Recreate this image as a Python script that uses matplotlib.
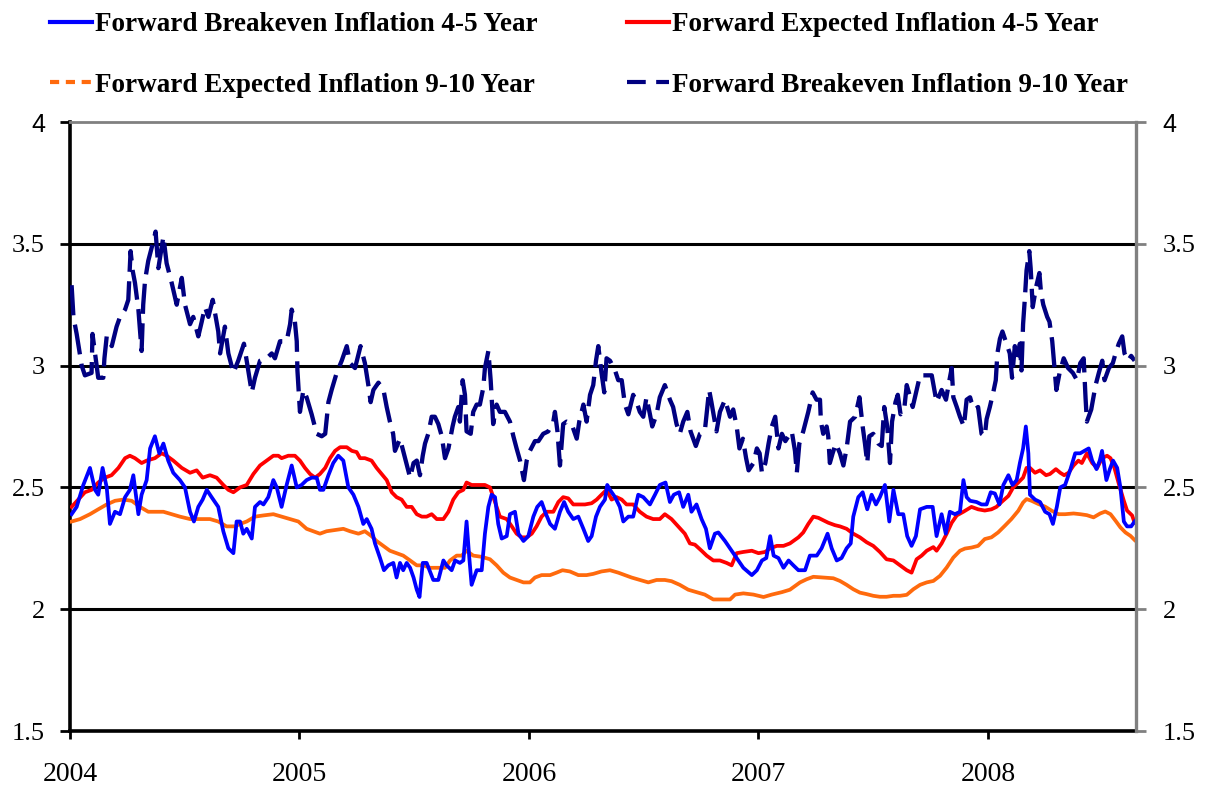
import numpy as np
import matplotlib
matplotlib.use("Agg")
import matplotlib.pyplot as plt
from matplotlib.lines import Line2D

# time in years since start of 2004
t_be45 = [0.007, 0.029, 0.058, 0.087, 0.109, 0.123, 0.142, 0.160, 0.174, 0.196, 0.218, 0.240, 0.261, 0.276, 0.298, 0.312, 0.334, 0.349, 0.370, 0.389, 0.407, 0.428, 0.450, 0.479, 0.501, 0.523, 0.540, 0.559, 0.578, 0.596, 0.617, 0.646, 0.668, 0.690, 0.712, 0.726,
          0.741, 0.755, 0.770, 0.792, 0.806, 0.828, 0.843, 0.864, 0.886, 0.901, 0.922, 0.944, 0.966, 0.988, 1.009, 1.031, 1.053, 1.075, 1.089, 1.104, 1.126, 1.147, 1.169, 1.191, 1.213, 1.235, 1.257, 1.278, 1.293, 1.314, 1.329, 1.351, 1.368, 1.387, 1.409, 1.423, 1.438, 1.452, 1.467, 1.482, 1.497, 1.511, 1.523, 1.537, 1.554,
          1.583, 1.605, 1.627, 1.641, 1.663, 1.678, 1.699, 1.714, 1.728, 1.740, 1.750, 1.772, 1.794, 1.808, 1.823, 1.837, 1.852, 1.866, 1.881, 1.903, 1.917, 1.939, 1.954, 1.976, 1.997, 2.019, 2.036, 2.055, 2.070, 2.092, 2.113, 2.135, 2.153, 2.171, 2.193, 2.215, 2.237, 2.258, 2.273, 2.292, 2.309, 2.331, 2.341, 2.353,
          2.375, 2.396, 2.411, 2.433, 2.454, 2.476, 2.498, 2.527, 2.549, 2.570, 2.595, 2.614, 2.631, 2.654, 2.672, 2.694, 2.708, 2.730, 2.752, 2.771, 2.788, 2.810, 2.825, 2.854, 2.883, 2.905, 2.934, 2.971, 2.993, 3.015, 3.034, 3.051, 3.066, 3.087, 3.109, 3.131,
          3.152, 3.174, 3.203, 3.224, 3.254, 3.275, 3.301, 3.319, 3.341, 3.362, 3.384, 3.402, 3.413, 3.435, 3.454, 3.474, 3.493, 3.512, 3.529, 3.551, 3.570, 3.588, 3.609, 3.631, 3.648, 3.667, 3.686, 3.704, 3.733, 3.759, 3.776, 3.798, 3.816, 3.834, 3.856, 3.878, 3.893, 3.907, 3.922,
          3.950, 3.972, 3.994, 4.012, 4.030, 4.050, 4.067, 4.089, 4.107, 4.125, 4.139, 4.153, 4.165, 4.176, 4.183, 4.205, 4.227, 4.249, 4.268, 4.283, 4.300, 4.315, 4.336, 4.358, 4.380, 4.402, 4.420, 4.439, 4.454, 4.473, 4.487, 4.497, 4.516, 4.531, 4.545, 4.563, 4.577, 4.592, 4.606, 4.624, 4.639]
be45 = [2.39, 2.42, 2.51, 2.58, 2.49, 2.47, 2.58, 2.50, 2.35, 2.40, 2.39, 2.46, 2.49, 2.55, 2.39, 2.47, 2.53, 2.66, 2.71, 2.64, 2.68, 2.61, 2.56, 2.53, 2.50, 2.40, 2.36, 2.42, 2.45, 2.49, 2.46, 2.42, 2.32, 2.25, 2.23, 2.36,
        2.36, 2.31, 2.33, 2.29, 2.42, 2.44, 2.43, 2.46, 2.53, 2.50, 2.42, 2.51, 2.59, 2.50, 2.51, 2.53, 2.54, 2.54, 2.49, 2.49, 2.55, 2.60, 2.63, 2.61, 2.50, 2.47, 2.42, 2.35, 2.37, 2.33, 2.27, 2.21, 2.16, 2.18, 2.19, 2.13, 2.19, 2.16, 2.19, 2.17, 2.13, 2.08, 2.05, 2.19, 2.19,
        2.12, 2.12, 2.20, 2.18, 2.16, 2.20, 2.19, 2.20, 2.36, 2.21, 2.10, 2.16, 2.16, 2.31, 2.42, 2.47, 2.46, 2.35, 2.29, 2.30, 2.39, 2.40, 2.31, 2.28, 2.30, 2.38, 2.42, 2.44, 2.40, 2.35, 2.33, 2.40, 2.44, 2.40, 2.37, 2.38, 2.33, 2.28, 2.30, 2.38, 2.42, 2.45, 2.51, 2.49,
        2.46, 2.42, 2.36, 2.38, 2.38, 2.47, 2.46, 2.43, 2.47, 2.51, 2.52, 2.44, 2.47, 2.48, 2.42, 2.47, 2.40, 2.43, 2.37, 2.33, 2.25, 2.31, 2.315, 2.28, 2.24, 2.21, 2.17, 2.14, 2.16, 2.20, 2.21, 2.30, 2.22, 2.21, 2.17, 2.20,
        2.18, 2.16, 2.16, 2.22, 2.22, 2.25, 2.31, 2.25, 2.20, 2.21, 2.25, 2.27, 2.38, 2.46, 2.48, 2.41, 2.47, 2.43, 2.46, 2.51, 2.36, 2.49, 2.39, 2.39, 2.30, 2.26, 2.30, 2.41, 2.42, 2.42, 2.30, 2.39, 2.31, 2.40, 2.39, 2.40, 2.53, 2.46, 2.445,
        2.44, 2.43, 2.43, 2.48, 2.475, 2.43, 2.51, 2.55, 2.51, 2.53, 2.60, 2.66, 2.75, 2.64, 2.47, 2.45, 2.44, 2.40, 2.39, 2.35, 2.42, 2.50, 2.51, 2.57, 2.64, 2.64, 2.65, 2.66, 2.61, 2.575, 2.61, 2.65, 2.53, 2.575, 2.61, 2.58, 2.50, 2.36, 2.34, 2.34, 2.36]

t_ex45 = [0.007, 0.036, 0.065, 0.094, 0.123, 0.152, 0.181, 0.211, 0.240, 0.261, 0.283, 0.312, 0.334, 0.370, 0.399, 0.421, 0.450, 0.487, 0.523, 0.552, 0.578, 0.610, 0.639, 0.668, 0.690, 0.712,
          0.741, 0.770, 0.799, 0.828, 0.857, 0.886, 0.908, 0.922, 0.951, 0.980, 1.002, 1.024, 1.046, 1.068, 1.089, 1.112, 1.133, 1.155, 1.177, 1.206, 1.228, 1.249, 1.264, 1.285, 1.314, 1.336, 1.358, 1.380, 1.402, 1.423, 1.445, 1.467, 1.489, 1.511, 1.533, 1.554,
          1.576, 1.598, 1.627, 1.649, 1.670, 1.692, 1.714, 1.728, 1.750, 1.779, 1.808, 1.830, 1.852, 1.873, 1.903, 1.925, 1.946, 1.968, 1.990, 2.012, 2.033, 2.055, 2.077, 2.106, 2.128, 2.149, 2.171, 2.193, 2.215, 2.244, 2.273, 2.295, 2.316, 2.338,
          2.360, 2.382, 2.404, 2.425, 2.454, 2.483, 2.512, 2.541, 2.570, 2.592, 2.621, 2.650, 2.679, 2.701, 2.723, 2.752, 2.774, 2.803, 2.832, 2.861, 2.883, 2.905, 2.934, 2.971, 3.000, 3.029, 3.051, 3.080, 3.109, 3.137,
          3.174, 3.195, 3.217, 3.239, 3.261, 3.282, 3.304, 3.333, 3.355, 3.384, 3.413, 3.442, 3.471, 3.500, 3.529, 3.558, 3.588, 3.617, 3.646, 3.667, 3.689, 3.711, 3.733, 3.762, 3.776, 3.798, 3.820, 3.842, 3.864, 3.893,
          3.928, 3.957, 3.986, 4.015, 4.037, 4.059, 4.089, 4.110, 4.132, 4.153, 4.168, 4.183, 4.205, 4.227, 4.253, 4.270, 4.296, 4.315, 4.332, 4.351, 4.373, 4.394, 4.409, 4.431, 4.454, 4.476, 4.497, 4.519, 4.534, 4.551, 4.570, 4.592, 4.606, 4.628, 4.639]
ex45 = [2.42, 2.45, 2.48, 2.49, 2.52, 2.54, 2.55, 2.58, 2.62, 2.63, 2.62, 2.60, 2.61, 2.62, 2.64, 2.63, 2.61, 2.58, 2.56, 2.57, 2.54, 2.55, 2.54, 2.51, 2.49, 2.48,
        2.50, 2.51, 2.555, 2.59, 2.61, 2.63, 2.63, 2.62, 2.63, 2.63, 2.61, 2.58, 2.555, 2.54, 2.555, 2.58, 2.62, 2.65, 2.665, 2.665, 2.65, 2.645, 2.62, 2.62, 2.61, 2.58, 2.555, 2.53, 2.48, 2.46, 2.45, 2.42, 2.42, 2.39, 2.38, 2.38,
        2.39, 2.37, 2.37, 2.40, 2.45, 2.48, 2.49, 2.52, 2.51, 2.51, 2.51, 2.50, 2.44, 2.38, 2.37, 2.34, 2.31, 2.295, 2.295, 2.31, 2.34, 2.38, 2.40, 2.40, 2.44, 2.46, 2.455, 2.43, 2.43, 2.43, 2.435, 2.45, 2.47, 2.49,
        2.45, 2.46, 2.45, 2.43, 2.43, 2.40, 2.38, 2.37, 2.37, 2.39, 2.37, 2.34, 2.31, 2.27, 2.265, 2.24, 2.22, 2.20, 2.20, 2.19, 2.18, 2.23, 2.235, 2.24, 2.23, 2.235, 2.25, 2.26, 2.26, 2.27,
        2.295, 2.315, 2.35, 2.38, 2.375, 2.365, 2.355, 2.345, 2.34, 2.33, 2.31, 2.295, 2.275, 2.26, 2.235, 2.205, 2.20, 2.18, 2.16, 2.15, 2.205, 2.22, 2.24, 2.255, 2.24, 2.27, 2.31, 2.355, 2.385, 2.40,
        2.42, 2.41, 2.405, 2.41, 2.42, 2.44, 2.465, 2.50, 2.52, 2.54, 2.58, 2.58, 2.56, 2.57, 2.55, 2.555, 2.575, 2.56, 2.55, 2.56, 2.59, 2.61, 2.60, 2.64, 2.60, 2.58, 2.62, 2.63, 2.62, 2.58, 2.515, 2.445, 2.405, 2.385, 2.355]

t_ex910 = [0.007, 0.044, 0.087, 0.123, 0.160, 0.196, 0.232, 0.269, 0.305, 0.341, 0.378, 0.407, 0.443, 0.479, 0.523, 0.566, 0.610, 0.646, 0.682, 0.719,
           0.741, 0.770, 0.806, 0.843, 0.886, 0.922, 0.959, 0.995, 1.031, 1.060, 1.089, 1.118, 1.155, 1.191, 1.220, 1.257, 1.285, 1.314, 1.336, 1.365, 1.394, 1.423, 1.452, 1.482, 1.511, 1.540, 1.569,
           1.598, 1.634, 1.656, 1.685, 1.707, 1.728, 1.757, 1.794, 1.830, 1.859, 1.888, 1.917, 1.946, 1.976, 2.004, 2.026, 2.055, 2.092, 2.120, 2.146, 2.178, 2.215, 2.251, 2.280, 2.316, 2.353,
           2.389, 2.418, 2.447, 2.483, 2.520, 2.556, 2.592, 2.621, 2.657, 2.694, 2.730, 2.766, 2.803, 2.839, 2.876, 2.898, 2.934, 2.978, 3.022, 3.058, 3.102, 3.137,
           3.181, 3.210, 3.239, 3.282, 3.326, 3.355, 3.384, 3.413, 3.442, 3.471, 3.500, 3.529, 3.558, 3.588, 3.617, 3.646, 3.675, 3.704, 3.733, 3.762, 3.791, 3.820, 3.849, 3.878, 3.900,
           3.928, 3.957, 3.986, 4.015, 4.044, 4.073, 4.102, 4.132, 4.153, 4.168, 4.190, 4.219, 4.249, 4.278, 4.307, 4.336, 4.373, 4.402, 4.431, 4.460, 4.489, 4.511, 4.534, 4.556, 4.577, 4.599, 4.621, 4.639]
ex910 = [2.36, 2.37, 2.39, 2.41, 2.43, 2.445, 2.45, 2.445, 2.42, 2.40, 2.40, 2.40, 2.39, 2.38, 2.37, 2.37, 2.37, 2.36, 2.34, 2.34,
         2.35, 2.36, 2.38, 2.385, 2.39, 2.38, 2.37, 2.36, 2.33, 2.32, 2.31, 2.32, 2.325, 2.33, 2.32, 2.31, 2.32, 2.30, 2.28, 2.26, 2.24, 2.23, 2.22, 2.20, 2.18, 2.18, 2.17,
         2.17, 2.17, 2.20, 2.22, 2.22, 2.24, 2.22, 2.215, 2.205, 2.18, 2.15, 2.13, 2.12, 2.11, 2.11, 2.13, 2.14, 2.14, 2.15, 2.16, 2.155, 2.14, 2.14, 2.145, 2.155, 2.16,
         2.15, 2.14, 2.13, 2.12, 2.11, 2.12, 2.12, 2.115, 2.10, 2.08, 2.07, 2.06, 2.04, 2.04, 2.04, 2.06, 2.065, 2.06, 2.05, 2.06, 2.07, 2.08,
         2.11, 2.123, 2.133, 2.13, 2.127, 2.116, 2.10, 2.082, 2.068, 2.062, 2.055, 2.051, 2.051, 2.055, 2.055, 2.059, 2.082, 2.10, 2.11, 2.116, 2.137, 2.171, 2.212, 2.24, 2.249,
         2.253, 2.26, 2.288, 2.295, 2.315, 2.342, 2.37, 2.404, 2.438, 2.452, 2.445, 2.432, 2.421, 2.404, 2.39, 2.39, 2.393, 2.39, 2.386, 2.377, 2.393, 2.401, 2.39, 2.363, 2.336, 2.315, 2.301, 2.284]

t_be910 = [0.007, 0.015, 0.029, 0.051, 0.065, 0.094, 0.098, 0.109, 0.123, 0.145, 0.150, 0.160, 0.182, 0.203, 0.218, 0.240, 0.254, 0.264, 0.273, 0.283, 0.298, 0.312, 0.319, 0.327, 0.341, 0.363, 0.373, 0.385, 0.407, 0.421, 0.443, 0.465, 0.487, 0.501, 0.523, 0.537, 0.559, 0.574, 0.588, 0.603, 0.622, 0.646, 0.654, 0.675, 0.690, 0.712, 0.733,
           0.758, 0.792, 0.806, 0.828, 0.857, 0.879, 0.893, 0.915, 0.944, 0.959, 0.966, 0.980, 0.988, 0.991, 1.002, 1.017, 1.031, 1.053, 1.075, 1.097, 1.112, 1.126, 1.140, 1.162, 1.184, 1.206, 1.220, 1.242, 1.266, 1.285, 1.300, 1.310, 1.322, 1.344, 1.366, 1.380, 1.394, 1.408, 1.416, 1.438, 1.460, 1.482, 1.497, 1.511,
           1.525, 1.537, 1.547, 1.561, 1.576, 1.590, 1.605, 1.620, 1.634, 1.649, 1.667, 1.677, 1.692, 1.699, 1.711, 1.721, 1.728, 1.746, 1.757, 1.772, 1.786, 1.801, 1.808, 1.823, 1.833, 1.844, 1.859, 1.873, 1.895, 1.917, 1.932, 1.946, 1.961, 1.978, 1.990, 2.004, 2.026, 2.041, 2.062, 2.084, 2.106, 2.113, 2.124, 2.135, 2.149, 2.164, 2.186, 2.208, 2.219, 2.237, 2.251, 2.266, 2.280, 2.292, 2.302, 2.316, 2.328, 2.338, 2.353,
           2.375, 2.389, 2.404, 2.418, 2.433, 2.454, 2.469, 2.483, 2.498, 2.512, 2.527, 2.537, 2.556, 2.570, 2.592, 2.614, 2.628, 2.643, 2.657, 2.672, 2.690, 2.704, 2.727, 2.745, 2.766, 2.774, 2.785, 2.795, 2.817, 2.832, 2.854, 2.876, 2.890, 2.905, 2.917, 2.932, 2.946, 2.957, 2.978, 2.993, 3.005, 3.015, 3.030, 3.044, 3.058, 3.073, 3.087, 3.102, 3.117, 3.137,
           3.145, 3.159, 3.167, 3.178, 3.195, 3.217, 3.236, 3.253, 3.268, 3.272, 3.282, 3.297, 3.304, 3.311, 3.323, 3.337, 3.355, 3.370, 3.384, 3.399, 3.421, 3.440, 3.454, 3.464, 3.474, 3.483, 3.500, 3.522, 3.537, 3.548, 3.561, 3.573, 3.582, 3.597, 3.607, 3.619, 3.636, 3.646, 3.661, 3.672, 3.689, 3.704, 3.733, 3.755, 3.776, 3.798, 3.817, 3.832, 3.842, 3.849, 3.864, 3.878, 3.895, 3.907, 3.922,
           3.928, 3.943, 3.957, 3.972, 3.986, 3.994, 4.008, 4.023, 4.034, 4.041, 4.052, 4.063, 4.081, 4.095, 4.105, 4.117, 4.127, 4.139, 4.146, 4.153, 4.161, 4.168, 4.180, 4.186, 4.195, 4.209, 4.224, 4.231, 4.241, 4.258, 4.268, 4.280, 4.288, 4.298, 4.312, 4.330, 4.349, 4.370, 4.388, 4.402, 4.417, 4.425, 4.431, 4.450, 4.469, 4.483, 4.498, 4.508, 4.527, 4.544, 4.556, 4.570, 4.585, 4.595, 4.610, 4.624, 4.639]
be910 = [3.33, 3.20, 3.13, 3.00, 2.96, 2.97, 3.13, 3.05, 2.95, 2.95, 3.03, 3.12, 3.08, 3.16, 3.20, 3.23, 3.27, 3.47, 3.39, 3.34, 3.23, 3.06, 3.25, 3.35, 3.43, 3.51, 3.55, 3.40, 3.53, 3.42, 3.34, 3.25, 3.36, 3.25, 3.17, 3.20, 3.12, 3.18, 3.24, 3.20, 3.27, 3.14, 3.05, 3.16, 3.05, 2.97, 3.02,
         3.09, 2.89, 2.95, 3.02, 3.03, 3.05, 3.03, 3.10, 3.10, 3.17, 3.23, 3.18, 3.10, 2.98, 2.81, 2.90, 2.87, 2.80, 2.72, 2.71, 2.72, 2.85, 2.90, 2.97, 3.02, 3.08, 3.01, 2.99, 3.08, 3.01, 2.92, 2.85, 2.90, 2.93, 2.90, 2.83, 2.77, 2.72, 2.65, 2.70, 2.62, 2.54, 2.60, 2.61,
         2.55, 2.63, 2.68, 2.72, 2.79, 2.79, 2.76, 2.71, 2.62, 2.66, 2.75, 2.79, 2.83, 2.77, 2.94, 2.88, 2.73, 2.72, 2.81, 2.84, 2.84, 2.91, 2.99, 3.06, 2.94, 2.76, 2.84, 2.81, 2.81, 2.77, 2.71, 2.66, 2.61, 2.53, 2.61, 2.65, 2.69, 2.69, 2.72, 2.73, 2.77, 2.81, 2.73, 2.59, 2.76, 2.77, 2.76, 2.70, 2.77, 2.84, 2.77, 2.88, 2.92, 3.02, 3.08, 2.97, 2.89, 3.03, 3.02,
         2.98, 2.94, 2.94, 2.84, 2.80, 2.88, 2.85, 2.81, 2.79, 2.87, 2.80, 2.75, 2.80, 2.87, 2.92, 2.86, 2.83, 2.76, 2.72, 2.77, 2.81, 2.73, 2.67, 2.72, 2.73, 2.80, 2.90, 2.85, 2.73, 2.81, 2.86, 2.79, 2.82, 2.75, 2.66, 2.70, 2.62, 2.57, 2.60, 2.66, 2.64, 2.56, 2.60, 2.68, 2.75, 2.79, 2.66, 2.72, 2.69, 2.72,
         2.73, 2.65, 2.56, 2.68, 2.73, 2.81, 2.89, 2.86, 2.86, 2.77, 2.72, 2.75, 2.71, 2.60, 2.64, 2.68, 2.64, 2.59, 2.66, 2.77, 2.79, 2.87, 2.75, 2.68, 2.60, 2.71, 2.72, 2.68, 2.67, 2.83, 2.75, 2.60, 2.77, 2.85, 2.88, 2.80, 2.83, 2.92, 2.87, 2.83, 2.90, 2.96, 2.96, 2.96, 2.85, 2.90, 2.86, 2.94, 2.99, 2.87, 2.83, 2.79, 2.75, 2.86, 2.87,
         2.85, 2.82, 2.83, 2.72, 2.71, 2.78, 2.83, 2.89, 2.94, 3.05, 3.11, 3.14, 3.09, 3.05, 2.95, 3.08, 3.02, 3.09, 2.98, 3.17, 3.28, 3.39, 3.47, 3.40, 3.24, 3.32, 3.38, 3.30, 3.25, 3.20, 3.18, 3.10, 3.01, 2.90, 2.97, 3.03, 2.99, 2.97, 2.94, 3.01, 3.03, 2.87, 2.77, 2.82, 2.92, 2.97, 3.02, 2.94, 2.99, 3.01, 3.05, 3.09, 3.12, 3.05, 3.02, 3.04, 3.02]

years = [2004, 2005, 2006, 2007, 2008]
yticks = [1.5, 2, 2.5, 3, 3.5, 4]
ytick_labels = ["1.5", "2", "2.5", "3", "3.5", "4"]
labels = ["Forward Breakeven Inflation 4-5 Year",
          "Forward Expected Inflation 4-5 Year",
          "Forward Expected Inflation 9-10 Year",
          "Forward Breakeven Inflation 9-10 Year"]

SERIF = "Liberation Serif"
SANS = "Liberation Sans"

fig = plt.figure(figsize=(12.10, 7.91), dpi=100)
ax = fig.add_axes([70 / 1210, 1 - 731 / 791, (1136 - 70) / 1210, (731 - 122) / 791])

lw = 2.7
ax.plot(t_ex910, ex910, color="#FF6A0D", lw=lw, zorder=3)
ax.plot(t_ex45, ex45, color="#FF0000", lw=lw, zorder=4)
ax.plot(t_be45, be45, color="#0000FF", lw=lw, zorder=5)
ax.plot(t_be910, be910, color="#000080", lw=lw + 0.4, dashes=(7, 2.2), zorder=6)

ax.set_xlim(0, 4.645)
ax.set_ylim(1.5, 4)
ax.set_xticks([y - 2004 for y in years])
ax.set_xticklabels([str(y) for y in years], family=SERIF, fontsize=20)
ax.set_yticks(yticks)
ax.set_yticklabels(ytick_labels, family=SERIF, fontsize=19)
ax.get_yticklabels()[-1].set_family(SANS)
ax.get_yticklabels()[-1].set_fontsize(18)

# horizontal gridlines
for v in [2, 2.5, 3, 3.5]:
    ax.axhline(v, color="black", lw=2.2, zorder=1)

ax.spines["left"].set_linewidth(2.6)
ax.spines["bottom"].set_linewidth(2.6)
ax.spines["top"].set_color("#808080")
ax.spines["top"].set_linewidth(2.0)
ax.spines["right"].set_visible(False)
ax.tick_params(axis="y", direction="out", length=7, width=2, pad=11)
ax.tick_params(axis="x", direction="out", length=6, width=2, pad=16)

# right-hand axis, same scale
ax2 = ax.twinx()
ax2.set_ylim(1.5, 4)
ax2.set_yticks(yticks)
ax2.set_yticklabels(ytick_labels, family=SERIF, fontsize=19)
ax2.get_yticklabels()[-1].set_family(SANS)
ax2.get_yticklabels()[-1].set_fontsize(18)
for s in ["left", "top", "bottom"]:
    ax2.spines[s].set_visible(False)
ax2.spines["right"].set_color("#808080")
ax2.spines["right"].set_linewidth(2.4)
ax2.tick_params(axis="y", direction="out", length=7, width=2, color="#808080", pad=12)

handles = [Line2D([], [], color="#0000FF", lw=3),
           Line2D([], [], color="#FF6A0D", lw=3, dashes=(2.2, 1.6)),
           Line2D([], [], color="#FF0000", lw=3),
           Line2D([], [], color="#000080", lw=3, dashes=(4.5, 2.5))]
fig.legend(handles, [labels[0], labels[2], labels[1], labels[3]],
           loc="upper left", bbox_to_anchor=(50 / 1210, 1 - 12 / 791), ncol=2, frameon=False,
           borderpad=0, borderaxespad=0,
           prop={"family": SERIF, "weight": "bold", "size": 19.5},
           handlelength=1.55, handletextpad=0.12, columnspacing=3.3, labelspacing=1.32)

fig.savefig("out.png", dpi=100)
